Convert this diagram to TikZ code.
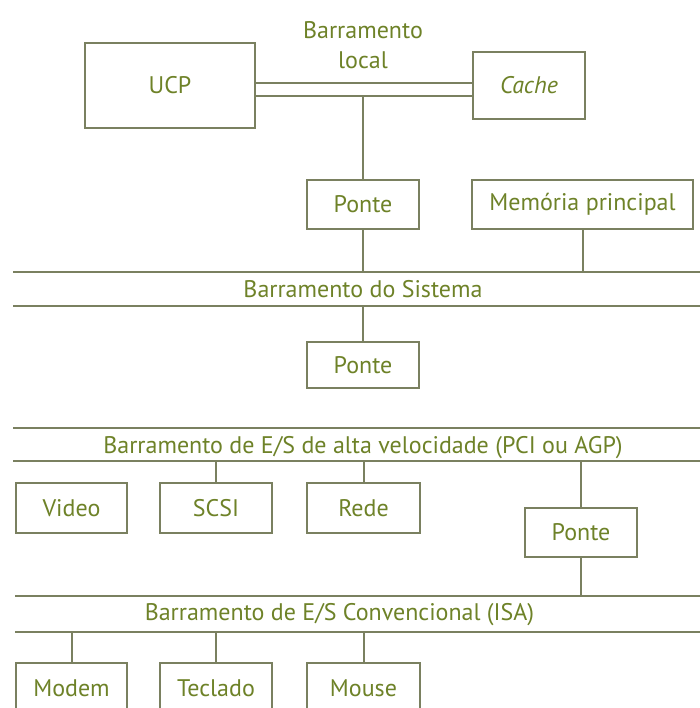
\documentclass[tikz,border=0pt]{standalone}
\usepackage{fontspec}
\setmainfont{PT Sans}
\usetikzlibrary{positioning}
\definecolor{linecol}{RGB}{122,128,96}
\definecolor{textcol}{RGB}{110,130,40}
\newcommand{\diagfont}{\fontsize{12}{15}\selectfont}

\begin{document}
\begin{tikzpicture}[
x=0.5pt,y=-0.5pt,
Boxes/.style={draw=linecol,line width=1pt,text=textcol,font=\diagfont,inner sep=0pt},
BusLines/.style={draw=linecol,line width=1pt},
BusLabels/.style={text=textcol,font=\diagfont,inner sep=0pt,align=center}
]
\useasboundingbox[fill=white] (0,0) rectangle (700,708);

% UCP, Cache e barramento local
\node[Boxes,minimum width=85pt,minimum height=42.5pt] (ucp) at (170,85.5) {UCP};
\node[Boxes,minimum width=56pt,minimum height=33.5pt,font=\diagfont\itshape] (cache) at (529,85.5) {Cache};
\node[BusLabels] (local) at (363,45) {Barramento\\local};

\draw[BusLines] ([yshift=1.25pt]ucp.east) -- ([yshift=1.25pt]cache.west);
\draw[BusLines] ([yshift=-5.25pt]ucp.east) -- ([yshift=-5.25pt]cache.west);
\coordinate (localLow) at (0,96);

\node[Boxes,minimum width=56pt,minimum height=24.5pt] (ponteA) at (363,204.5) {Ponte};
\node[Boxes,minimum width=110.5pt,minimum height=24.5pt] (mem) at (582.5,204.5) {Memória principal};

\draw[BusLines] (ponteA.north) -- (ponteA.north |- localLow);

% Barramento do Sistema
\coordinate (sisTop) at (13,272);
\coordinate (sisLow) at (13,306);
\draw[BusLines] (sisTop) -- (710,272);
\draw[BusLines] (sisLow) -- (710,306);
\node[BusLabels] (sis) at (363,289) {Barramento do Sistema};

\draw[BusLines] (ponteA.south) -- (ponteA.south |- sisTop);
\draw[BusLines] (mem.south) -- (mem.south |- sisTop);

\node[Boxes,minimum width=56pt,minimum height=23pt] (ponteB) at (363,365) {Ponte};
\draw[BusLines] (ponteB.north) -- (ponteB.north |- sisLow);

% Barramento de E/S de alta velocidade
\coordinate (pciTop) at (13,428);
\coordinate (pciLow) at (13,461);
\draw[BusLines] (pciTop) -- (710,428);
\draw[BusLines] (pciLow) -- (710,461);
\node[BusLabels] (pci) at (363,448) {Barramento de E/S de alta velocidade (PCI ou AGP)};

\node[Boxes,minimum width=55.5pt,minimum height=25pt] (video) at (71.5,508) {Video};
\node[Boxes,minimum width=56pt,minimum height=25pt] (scsi) at (216,508) {SCSI};
\node[Boxes,minimum width=56.5pt,minimum height=25pt] (rede) at (363.5,508) {Rede};
\node[Boxes,minimum width=56pt,minimum height=24.5pt] (ponteC) at (581,532.5) {Ponte};

\draw[BusLines] (scsi.north) -- (scsi.north |- pciLow);
\draw[BusLines] (rede.north) -- (rede.north |- pciLow);
\draw[BusLines] (ponteC.north) -- (ponteC.north |- pciLow);

% Barramento de E/S Convencional
\coordinate (isaTop) at (15,596);
\coordinate (isaLow) at (15,632);
\draw[BusLines] (isaTop) -- (710,596);
\draw[BusLines] (isaLow) -- (710,632);
\node[BusLabels] (isa) at (339.5,615) {Barramento de E/S Convencional (ISA)};

\draw[BusLines] (ponteC.south) -- (ponteC.south |- isaTop);

\node[Boxes,minimum width=55.5pt,minimum height=25pt] (modem) at (71.5,688) {Modem};
\node[Boxes,minimum width=56pt,minimum height=25pt] (teclado) at (216,688) {Teclado};
\node[Boxes,minimum width=56.5pt,minimum height=25pt] (mouse) at (363.5,688) {Mouse};

\foreach \dev in {modem,teclado,mouse}
  \draw[BusLines] (\dev.north) -- (\dev.north |- isaLow);

\end{tikzpicture}
\end{document}
